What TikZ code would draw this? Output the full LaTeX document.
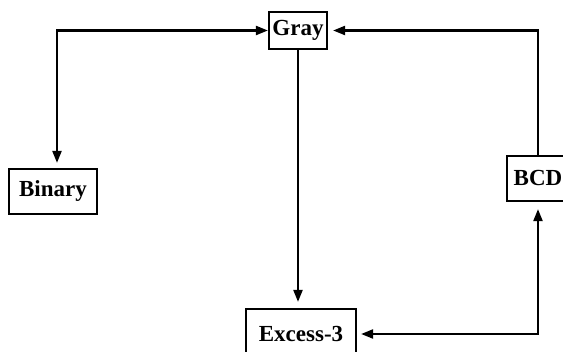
\documentclass[tikz,border=0pt]{standalone}
\usepackage{fontspec}
\setmainfont{Liberation Serif}
\usetikzlibrary{arrows.meta, positioning}

\begin{document}
\begin{tikzpicture}[x=1pt, y=-1pt,
  >={Triangle[length=12pt, width=9pt]},
  code/.style = {draw, line width=2.2pt, inner sep=0pt, align=center,
                 font=\fontsize{23}{26}\selectfont\bfseries},
  link/.style = {line width=2.2pt},
]
\useasboundingbox (0,0) rectangle (563,352);

% ── Code boxes ────────────────────────────────────────────────────────────────
\node[code, minimum width=58pt,  minimum height=37pt] (gray)   at (298,30.5)  {Gray};
\node[code, minimum width=88pt,  minimum height=45pt] (binary) at (53,191.5)  {Binary};
\node[code, minimum width=110pt, minimum height=50pt] (excess) at (301,334)   {Excess-3};
\node[code, minimum width=62pt,  minimum height=45pt] (bcd)    at (538,178.5) {BCD};

% ── Conversions ───────────────────────────────────────────────────────────────
\draw[link, <->, shorten <=5pt] ([xshift=4pt]binary.north) |- (gray.west);
\draw[link, ->, shorten >=6pt]  (gray.south) -- (gray.south |- excess.north);
\draw[link, ->, shorten >=5pt]  (bcd.north) |- (gray.east);
\draw[link, <->, shorten <=4pt, shorten >=7pt] (excess.east) -| (bcd.south);

\end{tikzpicture}
\end{document}
